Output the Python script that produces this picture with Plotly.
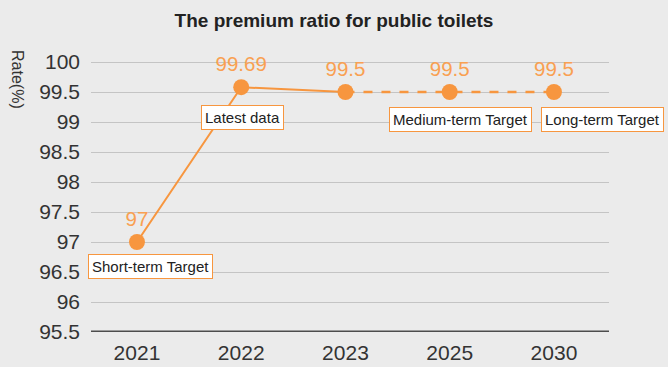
import plotly.graph_objects as go

# Data
years = ["2021", "2022", "2023", "2025", "2030"]
plotted_values = [97.0, 99.58, 99.5, 99.5, 99.5]
value_labels = ["97", "99.69", "99.5", "99.5", "99.5"]
box_labels = ["Short-term Target", "Latest data", "", "Medium-term Target", "Long-term Target"]
y_ticks = [95.5, 96, 96.5, 97, 97.5, 98, 98.5, 99, 99.5, 100]
y_tick_text = ["95.5", "96", "96.5", "97", "97.5", "98", "98.5", "99", "99.5", "100"]

ORANGE = "#F7963F"
ORANGE_TXT = "#F9A052"
BG = "#EBEBEB"
FONT = "Arial, Liberation Sans, Helvetica, sans-serif"

fig = go.Figure()

# solid segment (actual data)
fig.add_trace(go.Scatter(
    x=years[:3], y=plotted_values[:3], mode="lines",
    line=dict(color=ORANGE, width=2), hoverinfo="skip", showlegend=False,
))
# dashed segment (targets)
fig.add_trace(go.Scatter(
    x=years[2:], y=plotted_values[2:], mode="lines",
    line=dict(color=ORANGE, width=2.5, dash="dash"), hoverinfo="skip", showlegend=False,
))
# markers + value labels
fig.add_trace(go.Scatter(
    x=years, y=plotted_values, mode="markers+text",
    marker=dict(color=ORANGE, size=16),
    text=value_labels, textposition="top center",
    textfont=dict(color=ORANGE_TXT, size=20.5, family=FONT),
    cliponaxis=False, showlegend=False,
))

shifts = {
    0: (14, -24),
    1: (1, -30),
    3: (11, -27),
    4: (49, -27),
}
for i, lab in enumerate(box_labels):
    if not lab:
        continue
    xs, ys = shifts[i]
    fig.add_annotation(
        x=i, y=plotted_values[i], xref="x", yref="y",
        text=lab, showarrow=False, xshift=xs, yshift=ys,
        font=dict(size=15, color="#222222", family=FONT),
        bgcolor="white", bordercolor=ORANGE, borderwidth=1, borderpad=3,
    )

# rotated y-axis title (reads top-to-bottom)
fig.add_annotation(
    x=-0.141, y=0.84, xref="paper", yref="paper", text="Rate(%)",
    xanchor="center", yanchor="middle",
    textangle=90, showarrow=False,
    font=dict(size=16, color="#333333", family=FONT),
)

fig.update_layout(
    width=668, height=367,
    margin=dict(l=91, r=59, t=32, b=35),
    paper_bgcolor=BG, plot_bgcolor=BG,
    title=dict(text="<b>The premium ratio for public toilets</b>", x=0.5, xanchor="center",
               y=0.945, yanchor="middle",
               font=dict(size=19, color="#222222", family=FONT)),
    font=dict(family=FONT),
)
fig.update_xaxes(
    type="category", range=[-0.441, 4.528], showgrid=False, zeroline=False,
    showline=False, ticks="", ticklabelstandoff=6,
    tickfont=dict(size=21, color="#333333", family=FONT),
    automargin=False,
)
fig.update_yaxes(
    range=[95.5, 100.5], tickvals=y_ticks, ticktext=y_tick_text,
    showgrid=True, gridcolor="#C4C4C4", gridwidth=1, zeroline=False,
    showline=False, ticks="", ticklabelstandoff=10,
    tickfont=dict(size=21, color="#333333", family=FONT), automargin=False,
)
# baseline at the bottom of the value axis
fig.add_shape(type="line", xref="paper", yref="y", x0=0, x1=1, y0=95.5, y1=95.5,
              line=dict(color="#4D4D4D", width=3), layer="above")

fig.write_html("out.html", config={"displayModeBar": False},
               post_script="document.body.style.margin='0';")
